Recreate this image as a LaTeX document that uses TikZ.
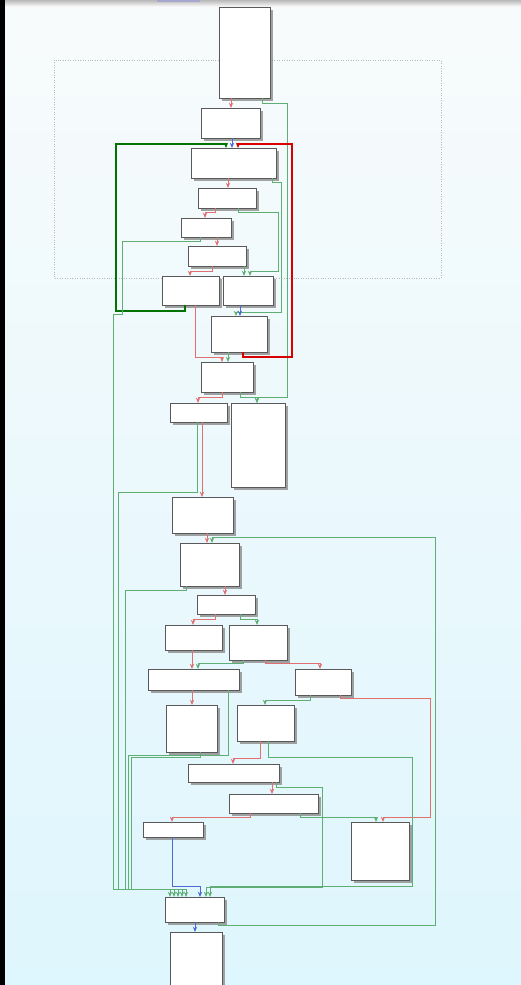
\documentclass[tikz,border=0pt]{standalone}
\usetikzlibrary{arrows.meta,shadows}
\definecolor{ered}{HTML}{E27070}
\definecolor{egreen}{HTML}{5FAF74}
\definecolor{eblue}{HTML}{4A6AD6}
\definecolor{bgtop}{HTML}{F8FBFC}
\definecolor{bgbot}{HTML}{DEF6FD}
\tikzset{
  blk/.style={draw=black!65, fill=white, line width=0.5pt, inner sep=0pt, outer sep=0pt,
    drop shadow={shadow xshift=1.5pt, shadow yshift=-1.5pt, fill=black!45, opacity=0.8}},
  ed/.style={line width=0.5pt, -{Stealth[length=3pt,width=2.4pt]}},
  re/.style={ed, draw=ered},
  ge/.style={ed, draw=egreen},
  be/.style={ed, draw=eblue},
  hot/.style={line width=1.2pt}
}
\begin{document}
\begin{tikzpicture}[x=0.02cm, y=-0.02cm]
\useasboundingbox (0,0) rectangle (521,985);
\shade[top color=bgtop, bottom color=bgbot] (0,0) rectangle (521,985);
\shade[top color=gray!55, bottom color=gray!8] (0,0) rectangle (521,6);
\fill[black!55!blue!35] (157,0) rectangle (200,2);
\fill[black] (0,0) rectangle (5,985);

\draw[gray!55, densely dotted] (54,60) rectangle (441,278);

\foreach \n/\xa/\ya/\xb/\yb in {b0/219/7/270/98, b1/201/108/260/138, b2/191/148/276/178,
  b3/198/188/256/208, b4/181/218/231/237, b5/188/246/246/266, b6/162/276/219/305,
  b7/223/276/273/305, b8/211/316/267/352, b9/201/362/253/392, b10/170/403/227/422,
  b11/231/403/285/487, b12/172/497/233/533, b13/180/543/239/586, b14/197/595/255/614,
  b15/165/625/222/650, b16/229/625/287/660, b17/148/669/239/690, b18/295/669/351/695,
  b19/166/705/217/752, b20/237/705/294/741, b21/188/764/279/782, b22/229/794/318/813,
  b23/143/822/203/837, b24/351/822/409/880, b25/165/897/224/922, b26/170/932/222/990}{
\node[blk, minimum width={(\xb-\xa)*0.02cm}, minimum height={(\yb-\ya)*0.02cm}] (\n) at ({(\xa+\xb)/2},{(\ya+\yb)/2}) {};
}

\draw[re] (b0.south -| 231,0) -- (b1.north -| 231,0);
\draw[ge] (b0.south -| 262,0) -- ++(0,5) -| (287,397) -| (b11.north -| 257,0);
\draw[be] (b1.south -| 232,0) -- (b2.north -| 232,0);
\draw[ge, hot, draw=green!45!black] (b6.south -| 185,0) -- ++(0,6) -| (116,144) -| (b2.north -| 226,0);
\draw[re, hot, draw=red!85!black] (b8.south -| 243,0) -- ++(0,5) -| (292,144) -| (b2.north -| 238,0);
\draw[re] (b2.south -| 228,0) -- (b3.north -| 228,0);
\draw[ge] (b2.south -| 272,0) -- ++(0,4) -| (281,312) -| (b8.north -| 236,0);
\draw[re] (b3.south -| 215,0) -- ++(0,4) -| (b4.north -| 205,0);
\draw[ge] (b3.south -| 238,0) -- ++(0,4) -| (278,271) -| (b7.north -| 250,0);
\draw[re] (b4.south -| 217,0) -- (b5.north -| 217,0);
\draw[ge] (b4.south -| 200,0) -- ++(0,4) -| (122,314) -- (113,314) -- (113,889) -| (b25.north -| 170,0);
\draw[re] (b5.south -| 212,0) -- ++(0,5) -| (b6.north -| 190,0);
\draw[ge] (b5.south -| 244,0) -- (b7.north -| 244,0);
\draw[re] (b6.south -| 195,0) -- (195,357) -| (b9.north -| 222,0);
\draw[be] (b7.south -| 240,0) -- (b8.north -| 240,0);
\draw[ge] (b8.south -| 228,0) -- (b9.north -| 228,0);
\draw[re] (b9.south -| 222,0) -- ++(0,5) -| (b10.north -| 198,0);
\draw[ge] (b9.south -| 240,0) -- ++(0,5) -| (b11.north -| 257,0);
\draw[re] (b10.south -| 202,0) -- (b12.north -| 202,0);
\draw[ge] (b10.south -| 197,0) |- (118,492) -- (118,889) -| (b25.north -| 174,0);
\draw[re] (b12.south -| 207,0) -- (b13.north -| 207,0);
\draw[re] (b13.south -| 225,0) -- (b14.north -| 225,0);
\draw[ge] (b13.south -| 186,0) |- (125,590) -- (125,889) -| (b25.north -| 178,0);
\draw[re] (b14.south -| 215,0) -- ++(0,5) -| (b15.north -| 193,0);
\draw[ge] (b14.south -| 240,0) -- ++(0,5) -| (b16.north -| 257,0);
\draw[re] (b15.south -| 192,0) -- (b17.north -| 192,0);
\draw[ge] (b16.south -| 243,0) -- ++(0,3) -| (b17.north -| 198,0);
\draw[re] (b16.south -| 265,0) -- ++(0,3) -| (b18.north -| 320,0);
\draw[re] (b17.south -| 192,0) -- (b19.north -| 192,0);
\draw[ge] (b17.south -| 228,0) |- (128,755) -- (128,889) -| (b25.north -| 182,0);
\draw[ge] (b19.south -| 200,0) |- (131,757) -- (131,889) -| (b25.north -| 186,0);
\draw[ge] (b18.south -| 310,0) -- ++(0,5) -| (b20.north -| 265,0);
\draw[re] (b18.south -| 340,0) -- ++(0,3) -| (430,817) -| (b24.north -| 383,0);
\draw[re] (b20.south -| 260,0) -- (260,758) -| (b21.north -| 233,0);
\draw[ge] (b20.south -| 268,0) |- (412,757) -- (412,886) -| (b25.north -| 210,0);
\draw[re] (b21.south -| 272,0) -- (b22.north -| 272,0);
\draw[ge] (b21.south -| 276,0) |- (322,787) -- (322,887) -| (b25.north -| 206,0);
\draw[re] (b22.south -| 250,0) -- ++(0,4) -| (b23.north -| 172,0);
\draw[ge] (b22.south -| 300,0) -- ++(0,4) -| (b24.north -| 376,0);
\draw[be] (b23.south -| 172,0) -- (172,886) -| (b25.north -| 200,0);
\draw[be] (b25.south -| 195,0) -- (b26.north -| 195,0);
\draw[ge] (b25.south -| 218,0) -- ++(0,3) -| (435,537) -| (b13.north -| 212,0);
\end{tikzpicture}
\end{document}
